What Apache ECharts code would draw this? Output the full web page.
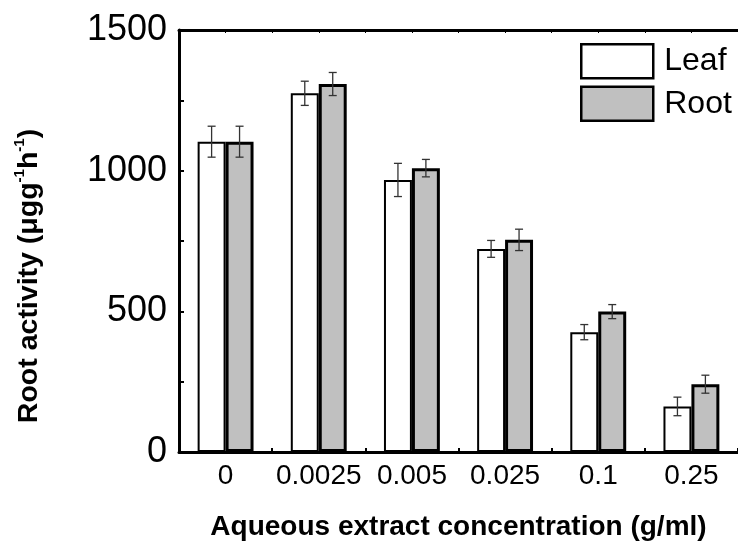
<!DOCTYPE html>
<html>
<head>
<meta charset="utf-8">
<script src="https://cdn.jsdelivr.net/npm/echarts@6/dist/echarts.min.js"></script>
<style>
html,body{margin:0;padding:0;background:#fff;}
#chart{width:738px;height:548px;}
</style>
</head>
<body>
<div id="chart"></div>
<script>
const categories = ['0', '0.0025', '0.005', '0.025', '0.1', '0.25'];
const leafValues = [1103, 1275, 967, 722, 426, 162];
const rootValues = [1103, 1308, 1009, 754, 499, 241];
const leafErrors = [55, 43, 59, 30, 27, 33];
const rootErrors = [55, 41, 31, 38, 25, 32];
const yTicks = [0, 500, 1000, 1500];

const FONT = 'Liberation Sans, Arial, sans-serif';

const errData = [];
categories.forEach((c, i) => {
  errData.push([i, leafValues[i], leafErrors[i], -1]);
  errData.push([i, rootValues[i], rootErrors[i], 1]);
});

const chart = echarts.init(document.getElementById('chart'), null, {renderer: 'canvas'});
chart.setOption({
  animation: false,
  backgroundColor: '#fff',
  grid: {left: 179, top: 30, right: -2, bottom: 96, containLabel: false},
  legend: {
    orient: 'vertical', left: 580, top: 43, padding: 0,
    itemWidth: 72, itemHeight: 34, itemGap: 6,
    icon: 'rect',
    textStyle: {fontFamily: FONT, fontSize: 32, color: '#000', padding: [0, 0, 0, 6]},
    data: [
      {name: 'Leaf', itemStyle: {color: '#fff', borderColor: '#000', borderWidth: 2.5}},
      {name: 'Root', itemStyle: {color: '#c0c0c0', borderColor: '#000', borderWidth: 2.5}}
    ]
  },
  xAxis: [{
    type: 'category',
    data: categories,
    boundaryGap: true,
    axisLine: {show: true, lineStyle: {color: '#000', width: 3}},
    axisTick: {show: true, inside: true, interval: 0, length: 4, lineStyle: {color: '#000', width: 2}},
    axisLabel: {fontFamily: FONT, fontSize: 28, color: '#000', margin: 10, interval: 0},
    splitLine: {show: false},
    name: 'Aqueous extract concentration (g/ml)',
    nameLocation: 'middle',
    nameGap: 61,
    nameTextStyle: {fontFamily: FONT, fontSize: 28, fontWeight: 'bold', color: '#000'}
  }, {
    type: 'value',
    position: 'top',
    min: 0, max: 6, interval: 0.5,
    axisLine: {show: true, lineStyle: {color: '#000', width: 3}},
    axisTick: {show: true, inside: true, length: 3, lineStyle: {color: '#000', width: 1}},
    axisLabel: {show: false},
    splitLine: {show: false}
  }],
  yAxis: {
    type: 'value',
    min: yTicks[0], max: yTicks[yTicks.length - 1], interval: 500,
    axisLine: {show: true, lineStyle: {color: '#000', width: 3}},
    axisTick: {show: true, inside: true, length: 5, lineStyle: {color: '#000', width: 2}},
    minorTick: {show: true, splitNumber: 2, length: 5, lineStyle: {color: '#000', width: 2}},
    axisLabel: {fontFamily: FONT, fontSize: 36, color: '#000', margin: 12,
      formatter: v => yTicks.includes(v) ? String(v) : ''},
    splitLine: {show: false},
    name: '{t|Root activity (μgg}{s|-1}{t|h}{s|-1}{t|)}',
    nameLocation: 'middle',
    nameGap: 133,
    nameTextStyle: {
      fontFamily: FONT, fontSize: 28, fontWeight: 'bold', color: '#000',
      padding: [0, 70, 0, 0],
      rich: {
        t: {fontFamily: FONT, fontSize: 28.5, fontWeight: 'bold', color: '#000', lineHeight: 34},
        s: {fontFamily: FONT, fontSize: 15, fontWeight: 'bold', color: '#000', verticalAlign: 'top', lineHeight: 34, padding: [0, 0, 14, 0]}
      }
    }
  },
  series: [{
    name: 'Leaf', type: 'bar', data: leafValues,
    barCategoryGap: '40%', barGap: '0%',
    itemStyle: {color: '#fff', borderColor: '#000', borderWidth: 2}
  }, {
    name: 'Root', type: 'bar', data: rootValues,
    barCategoryGap: '40%', barGap: '0%',
    itemStyle: {color: '#c0c0c0', borderColor: '#000', borderWidth: 3}
  }, {
    type: 'custom',
    name: 'err',
    xAxisIndex: 0, yAxisIndex: 0,
    z: 10,
    data: errData,
    renderItem: function (params, api) {
      const ci = api.value(0), v = api.value(1), e = api.value(2), off = api.value(3);
      const bw = api.size([1, 0])[0] * 0.6 / 2;
      const c = api.coord([ci, v]);
      const x = c[0] + off * bw / 2;
      const yt = api.coord([ci, v + e])[1];
      const yb = api.coord([ci, v - e])[1];
      const st = {stroke: '#333', lineWidth: 1.3};
      return {type: 'group', children: [
        {type: 'line', shape: {x1: x, y1: yt, x2: x, y2: yb}, style: st},
        {type: 'line', shape: {x1: x - 4, y1: yt, x2: x + 4, y2: yt}, style: st},
        {type: 'line', shape: {x1: x - 4, y1: yb, x2: x + 4, y2: yb}, style: st}
      ]};
    }
  }]
});
</script>
</body>
</html>
